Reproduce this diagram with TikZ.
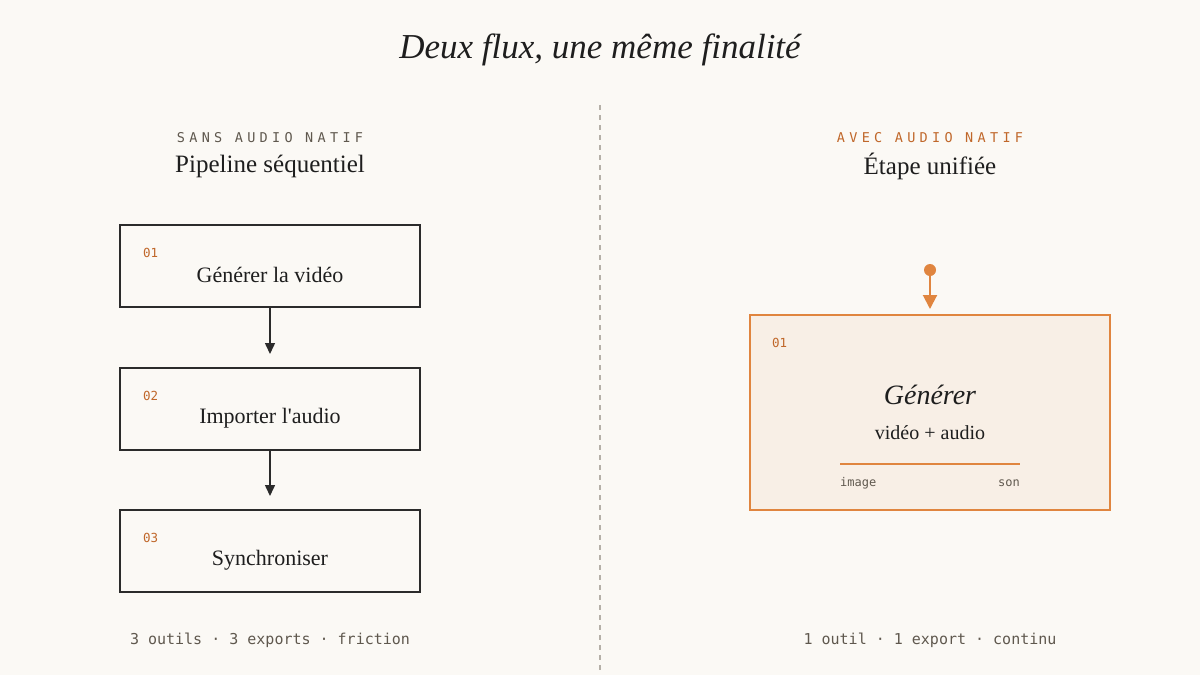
\documentclass[tikz,border=0pt]{standalone}
\usepackage{fontspec}
\setmainfont{Liberation Serif}[Ligatures=TeXOff]
\newfontfamily\monof{DejaVu Sans Mono}
\newfontfamily\trackmono[LetterSpace=32]{DejaVu Sans Mono}
\usetikzlibrary{arrows.meta}
\definecolor{bg}{HTML}{FBF9F5}
\definecolor{ink}{HTML}{1E1E1E}
\definecolor{boxline}{HTML}{2B2B2B}
\definecolor{num}{HTML}{C0672A}
\definecolor{ora}{HTML}{E0853F}
\definecolor{orafill}{HTML}{F8EFE6}
\definecolor{muted}{HTML}{5F584E}
\definecolor{divgray}{HTML}{B5B0A8}
\tikzset{
  stepbox/.style={draw=boxline, line width=2pt, minimum width=300pt, minimum height=82pt, inner sep=0pt},
  numlab/.style={font=\monof\fontsize{12.5}{14}\selectfont, text=num, anchor=west, inner sep=0pt},
  steplab/.style={font=\fontsize{22}{26}\selectfont, text=ink, inner sep=0pt},
  kicker/.style={font=\trackmono\fontsize{13.5}{16}\selectfont, inner sep=0pt},
  subtitle/.style={font=\fontsize{25}{30}\selectfont, text=ink, inner sep=0pt},
  footer/.style={font=\monof\fontsize{15}{18}\selectfont, text=muted, inner sep=0pt},
  flow/.style={draw=boxline, line width=1.5pt, -{Triangle[length=11pt,width=10pt]}},
}
\begin{document}
\begin{tikzpicture}[x=1pt,y=-1pt]
\useasboundingbox[fill=bg] (0,0) rectangle (1200,675);
% title
\node[font=\itshape\fontsize{35}{40}\selectfont, text=ink, inner sep=0pt] (title) at (600,50) {Deux flux, une même finalité};
% divider
\coordinate (dtop) at (600,105);
\coordinate (dbot) at (600,675);
\draw[divgray, line width=1.5pt, dash pattern=on 5pt off 5pt] (dtop) -- (dbot);
% left header
\node[kicker, text=muted] (lk) at (270,138) {SANS AUDIO NATIF};
\node[subtitle] (ls) at (270,166) {Pipeline séquentiel};
% left boxes
\node[stepbox] (b1) at (270,266) {};
\node[stepbox] (b2) at (270,409) {};
\node[stepbox] (b3) at (270,551) {};
\node[numlab] (n1) at (143,253) {01};
\node[numlab] (n2) at (143,396) {02};
\node[numlab] (n3) at (143,538) {03};
\node[steplab] (t1) at (270,275) {Générer la vidéo};
\node[steplab] (t2) at (270,418) {Importer l'audio};
\node[steplab] (t3) at (270,560) {Synchroniser};
\draw[flow] (b1.south) -- ([yshift=13pt]b2.north);
\draw[flow] (b2.south) -- ([yshift=13pt]b3.north);
\node[footer] (lf) at (270,640) {3 outils · 3 exports · friction};
% right header
\node[kicker, text=num] (rk) at (930,138) {AVEC AUDIO NATIF};
\node[subtitle] (rs) at (930,166) {Étape unifiée};
% right box
\node[draw=ora, fill=orafill, line width=2pt, minimum width=360pt, minimum height=195pt, inner sep=0pt] (big) at (930,412.5) {};
\coordinate (dot) at (930,270);
\fill[ora] (dot) circle (6pt);
\draw[ora, line width=2pt, -{Triangle[length=14pt,width=14pt]}] (dot) -- ([yshift=5pt]big.north);
\node[numlab] (rn) at (772,343) {01};
\node[font=\itshape\fontsize{28}{32}\selectfont, text=ink, inner sep=0pt] (gen) at (930,395) {Générer};
\node[font=\fontsize{20}{24}\selectfont, text=ink, inner sep=0pt] (va) at (930,433) {vidéo + audio};
\coordinate (la) at (840,464);
\coordinate (lb) at (1020,464);
\draw[ora, line width=1.5pt] (la) -- (lb);
\node[font=\monof\fontsize{12}{14}\selectfont, text=muted, anchor=west, inner sep=0pt] (im) at (840,483) {image};
\node[font=\monof\fontsize{12}{14}\selectfont, text=muted, anchor=east, inner sep=0pt] (so) at (1020,483) {son};
\node[footer] (rf) at (930,640) {1 outil · 1 export · continu};
\end{tikzpicture}
\end{document}
